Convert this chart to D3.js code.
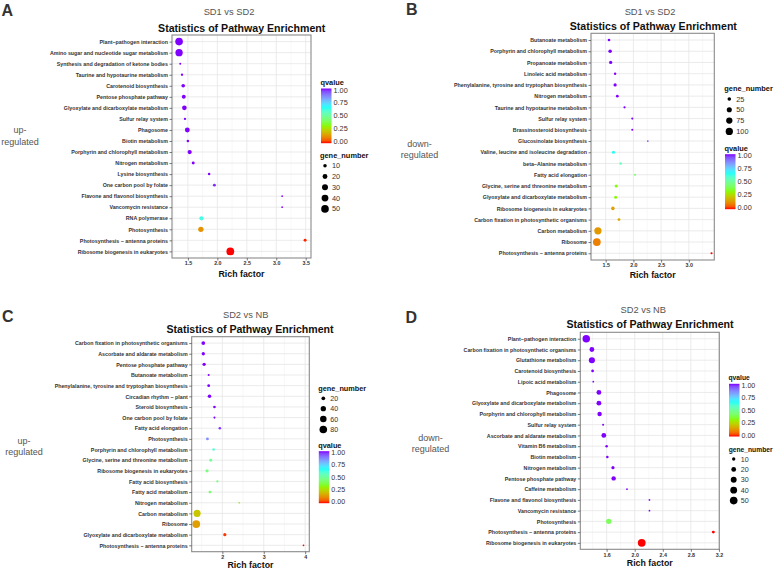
<!DOCTYPE html>
<html><head><meta charset="utf-8">
<script src="https://cdn.jsdelivr.net/npm/d3@7"></script>
<style>body{margin:0;background:#fff}svg{display:block}</style>
</head><body><svg id="chart" width="776" height="569"></svg>
<script>
// ---------- DATA ----------
const aCategories = ["Plant\u2212pathogen interaction","Amino sugar and nucleotide sugar metabolism","Synthesis and degradation of ketone bodies","Taurine and hypotaurine metabolism","Carotenoid biosynthesis","Pentose phosphate pathway","Glyoxylate and dicarboxylate metabolism","Sulfur relay system","Phagosome","Biotin metabolism","Porphyrin and chlorophyll metabolism","Nitrogen metabolism","Lysine biosynthesis","One carbon pool by folate","Flavone and flavonol biosynthesis","Vancomycin resistance","RNA polymerase","Photosynthesis","Photosynthesis \u2212 antenna proteins","Ribosome biogenesis in eukaryotes"];
const aRichFactor = [1.35,1.35,1.37,1.40,1.42,1.43,1.44,1.45,1.49,1.50,1.53,1.59,1.86,1.95,3.10,3.10,1.73,1.72,3.49,2.22];
const aGeneNumber = [50,46,3,4,11,13,18,4,20,5,15,7,5,7,2,2,15,24,7,52];
const aQvalue = [1,1,1,1,1,1,1,1,1,1,1,1,1,0.98,1,1,0.62,0.13,0.01,0.0];

const bCategories = ["Butanoate metabolism","Porphyrin and chlorophyll metabolism","Propanoate metabolism","Linoleic acid metabolism","Phenylalanine, tyrosine and tryptophan biosynthesis","Nitrogen metabolism","Taurine and hypotaurine metabolism","Sulfur relay system","Brassinosteroid biosynthesis","Glucosinolate biosynthesis","Valine, leucine and isoleucine degradation","beta\u2212Alanine metabolism","Fatty acid elongation","Glycine, serine and threonine metabolism","Glyoxylate and dicarboxylate metabolism","Ribosome biogenesis in eukaryotes","Carbon fixation in photosynthetic organisms","Carbon metabolism","Ribosome","Photosynthesis \u2212 antenna proteins"];
const bRichFactor = [1.56,1.58,1.59,1.67,1.67,1.71,1.84,1.98,1.98,2.26,1.64,1.77,2.03,1.69,1.68,1.63,1.74,1.36,1.34,3.41];
const bGeneNumber = [14,24,20,12,20,15,10,9,9,6,20,12,9,18,18,24,15,100,115,9];
const bQvalue = [1,1,1,1,1,1,1,1,1,0.95,0.65,0.55,0.42,0.33,0.32,0.15,0.17,0.14,0.10,0.0];

const cCategories = ["Carbon fixation in photosynthetic organisms","Ascorbate and aldarate metabolism","Pentose phosphate pathway","Butanoate metabolism","Phenylalanine, tyrosine and tryptophan biosynthesis","Circadian rhythm \u2212 plant","Steroid biosynthesis","One carbon pool by folate","Fatty acid elongation","Photosynthesis","Porphyrin and chlorophyll metabolism","Glycine, serine and threonine metabolism","Ribosome biogenesis in eukaryotes","Fatty acid biosynthesis","Fatty acid metabolism","Nitrogen metabolism","Carbon metabolism","Ribosome","Glyoxylate and dicarboxylate metabolism","Photosynthesis \u2212 antenna proteins"];
const cRichFactor = [1.54,1.54,1.56,1.67,1.67,1.69,1.81,1.81,1.94,1.64,1.79,1.72,1.63,1.88,1.70,2.41,1.39,1.37,2.06,3.96];
const cGeneNumber = [20,16,16,7,12,18,10,7,10,12,10,13,15,8,12,5,70,85,15,5];
const cQvalue = [1,1,1,1,1,1,1,1,0.97,0.85,0.6,0.5,0.45,0.45,0.43,0.3,0.22,0.15,0.02,0.0];

const dCategories = ["Plant\u2212pathogen interaction","Carbon fixation in photosynthetic organisms","Glutathione metabolism","Carotenoid biosynthesis","Lipoic acid metabolism","Phagosome","Glyoxylate and dicarboxylate metabolism","Porphyrin and chlorophyll metabolism","Sulfur relay system","Ascorbate and aldarate metabolism","Vitamin B6 metabolism","Biotin metabolism","Nitrogen metabolism","Pentose phosphate pathway","Caffeine metabolism","Flavone and flavonol biosynthesis","Vancomycin resistance","Photosynthesis","Photosynthesis \u2212 antenna proteins","Ribosome biogenesis in eukaryotes"];
const dRichFactor = [1.31,1.39,1.39,1.40,1.41,1.49,1.49,1.50,1.55,1.56,1.60,1.61,1.69,1.70,1.89,2.21,2.21,1.63,3.12,2.10];
const dGeneNumber = [48,20,32,7,3,20,20,17,4,20,6,6,9,17,3,3,3,25,8,52];
const dQvalue = [1,1,1,1,1,1,1,1,1,1,1,1,1,1,1,1,1,0.4,0.0,0.0];

const aXTicks = [1.5,2.0,2.5,3.0,3.5];
const bXTicks = [1.5,2.0,2.5,3.0];
const cXTicks = [2,3,4];
const dXTicks = [1.6,2.0,2.4,2.8,3.2];
const aSizeBreaks = [10,20,30,40,50];
const bSizeBreaks = [25,50,75,100];
const cSizeBreaks = [20,40,60,80];
const dSizeBreaks = [10,20,30,40,50];
const qBreaks = [1.00,0.75,0.50,0.25,0.00];
const qColors = ["#FF0000","#80FF00","#00FFFF","#8000FF"];

// ---------- DRAWING ----------
const svg = d3.select("#chart");
const FONT = "'Liberation Sans', Arial, Helvetica, sans-serif";
const color = d3.scaleLinear().domain([0,1/3,2/3,1]).range(qColors).interpolate(d3.interpolateLab);

const defs = svg.append("defs");
const grad = defs.append("linearGradient").attr("id","qgrad").attr("x1",0).attr("y1",1).attr("x2",0).attr("y2",0);
d3.range(0,1.0001,0.05).forEach(t => grad.append("stop").attr("offset",t).attr("stop-color",color(t)));

function sizeScale(vals){
  const lo = d3.min(vals), hi = d3.max(vals), rmin = 0.85, rmax = 3.9;
  return v => Math.sqrt(Math.max(0, rmin*rmin + (rmax*rmax - rmin*rmin)*(v-lo)/(hi-lo)));
}

const panels = [
  {letter:"A", lx:1.5, ly:15.5, sub:"SD1 vs SD2", subX:229, subY:15.3, titleX:241.7, titleY:31.5,
   side:["up-","regulated"], sideX:20, sideY:[133,144.5],
   cats:aCategories, rf:aRichFactor, gn:aGeneNumber, q:aQvalue, ticks:aXTicks, fmt:d3.format(".1f"),
   left:172, right:311, top:35, bottom:258, xDomain:[1.23,3.59], xlabY:276.5,
   sizeBreaks:aSizeBreaks, legFont:7.3, titleFont:7.4,
   qLeg:{x:320.5, y1:90, y0:141.7}, sLeg:{x:320, titleY:158.3, y:165.7, step:10.8}},
  {letter:"B", lx:406, ly:15, sub:"SD1 vs SD2", subX:650, subY:15, titleX:653.3, titleY:29.5,
   side:["down-","regulated"], sideX:419.5, sideY:[147,157.5],
   cats:bCategories, rf:bRichFactor, gn:bGeneNumber, q:bQvalue, ticks:bXTicks, fmt:d3.format(".1f"),
   left:591, right:714.3, top:33.3, bottom:260, xDomain:[1.235,3.46], xlabY:278,
   sizeBreaks:bSizeBreaks, legFont:7.3, titleFont:7.4,
   qLeg:{x:724.5, y1:155.7, y0:207.7}, sLeg:{x:724.3, titleY:90.8, y:99, step:10.8}},
  {letter:"C", lx:2, ly:322, sub:"SD2 vs NB", subX:245.7, subY:318.3, titleX:250, titleY:333,
   side:["up-","regulated"], sideX:24, sideY:[443.7,455],
   cats:cCategories, rf:cRichFactor, gn:cGeneNumber, q:cQvalue, ticks:cXTicks, fmt:d3.format("d"),
   left:191.7, right:309.3, top:336.7, bottom:551.7, xDomain:[1.26,4.1], xlabY:568,
   sizeBreaks:cSizeBreaks, legFont:7.1, titleFont:7.3,
   qLeg:{x:318.3, y1:452.7, y0:501.7}, sLeg:{x:318.3, titleY:391, y:398.3, step:10.4}},
  {letter:"D", lx:405.5, ly:322.5, sub:"SD2 vs NB", subX:643.3, subY:312.6, titleX:650, titleY:328.2,
   side:["down-","regulated"], sideX:430.5, sideY:[440.5,451.5],
   cats:dCategories, rf:dRichFactor, gn:dGeneNumber, q:dQvalue, ticks:dXTicks, fmt:d3.format(".1f"),
   left:580.3, right:719.3, top:332.3, bottom:549.3, xDomain:[1.225,3.205], xlabY:566.3,
   sizeBreaks:dSizeBreaks, legFont:7.1, titleFont:6.7,
   qLeg:{x:728.5, y1:385.3, y0:435}, sLeg:{x:728.7, titleY:451.5, y:459, step:10.4}}
];

panels.forEach(p => {
  const g = svg.append("g");
  const x = d3.scaleLinear().domain(p.xDomain).range([p.left, p.right]);
  const y = d3.scalePoint().domain(p.cats).range([p.top, p.bottom]).padding(0.6);
  const r = sizeScale(p.gn);

  // panel letter + titles
  g.append("text").attr("x",p.lx).attr("y",p.ly).text(p.letter)
    .attr("font-family",FONT).attr("font-weight","bold").attr("font-size",16).attr("fill","#333");
  g.append("text").attr("x",p.subX).attr("y",p.subY).attr("text-anchor","middle").text(p.sub)
    .attr("font-family",FONT).attr("font-size",9.3).attr("fill","#555");
  g.append("text").attr("x",p.titleX).attr("y",p.titleY).attr("text-anchor","middle").text("Statistics of Pathway Enrichment")
    .attr("font-family",FONT).attr("font-weight","bold").attr("font-size",10.6).attr("fill","#111");
  p.side.forEach((s,i) => g.append("text").attr("x",p.sideX).attr("y",p.sideY[i]).attr("text-anchor","middle").text(s)
    .attr("font-family",FONT).attr("font-size",9).attr("fill","#555"));

  // background + grid
  g.append("rect").attr("x",p.left).attr("y",p.top).attr("width",p.right-p.left).attr("height",p.bottom-p.top).attr("fill","#fff");
  const step = p.ticks[1]-p.ticks[0];
  const minors = [];
  for (let v = p.ticks[0]-step/2; v <= p.xDomain[1]; v += step) if (v >= p.xDomain[0]) minors.push(v);
  g.selectAll(null).data(minors).join("line")
    .attr("x1",d=>x(d)).attr("x2",d=>x(d)).attr("y1",p.top).attr("y2",p.bottom)
    .attr("stroke","#f3f3f3").attr("stroke-width",0.6);
  g.selectAll(null).data(p.ticks).join("line")
    .attr("x1",d=>x(d)).attr("x2",d=>x(d)).attr("y1",p.top).attr("y2",p.bottom)
    .attr("stroke","#e6e6e6").attr("stroke-width",0.8);
  g.selectAll(null).data(p.cats).join("line")
    .attr("x1",p.left).attr("x2",p.right).attr("y1",d=>y(d)).attr("y2",d=>y(d))
    .attr("stroke","#e6e6e6").attr("stroke-width",0.8);

  // points
  g.selectAll(null).data(p.cats.map((c,i)=>({c, rf:p.rf[i], gn:p.gn[i], q:p.q[i]}))).join("circle")
    .attr("cx",d=>x(d.rf)).attr("cy",d=>y(d.c)).attr("r",d=>r(d.gn)).attr("fill",d=>color(d.q));

  // border
  g.append("rect").attr("x",p.left).attr("y",p.top).attr("width",p.right-p.left).attr("height",p.bottom-p.top)
    .attr("fill","none").attr("stroke","#8a8a8a").attr("stroke-width",1.1);

  // axes
  const ya = g.append("g").attr("transform",`translate(${p.left},0)`)
    .call(d3.axisLeft(y).tickSize(2.5).tickPadding(1.5));
  const xa = g.append("g").attr("transform",`translate(0,${p.bottom})`)
    .call(d3.axisBottom(x).tickValues(p.ticks).tickFormat(p.fmt).tickSize(2.5).tickPadding(1));
  [ya,xa].forEach(a => {
    a.select(".domain").remove();
    a.selectAll(".tick line").attr("stroke","#444").attr("stroke-width",0.7);
    a.selectAll("text").attr("font-family",FONT).attr("font-weight","bold").attr("font-size",5.3).attr("fill","#333");
  });
  g.append("text").attr("x",(p.left+p.right)/2).attr("y",p.xlabY).attr("text-anchor","middle").text("Rich factor")
    .attr("font-family",FONT).attr("font-weight","bold").attr("font-size",8.8).attr("fill","#111");

  // colour legend
  const ql = p.qLeg;
  const qs = d3.scaleLinear().domain([0,1]).range([ql.y0, ql.y1]);
  g.append("text").attr("x",ql.x).attr("y",ql.y1-5).text("qvalue")
    .attr("font-family",FONT).attr("font-weight","bold").attr("font-size",p.titleFont).attr("fill","#111");
  g.append("rect").attr("x",ql.x+0.5).attr("y",ql.y1-1.5).attr("width",10.5).attr("height",ql.y0-ql.y1+3).attr("fill","url(#qgrad)");
  qBreaks.forEach(b => g.append("text").attr("x",ql.x+13).attr("y",qs(b)+2.5).text(b.toFixed(2))
    .attr("font-family",FONT).attr("font-size",p.legFont).attr("fill","#333"));

  // size legend
  const sl = p.sLeg;
  g.append("text").attr("x",sl.x).attr("y",sl.titleY).text("gene_number")
    .attr("font-family",FONT).attr("font-weight","bold").attr("font-size",p.titleFont).attr("fill","#111");
  p.sizeBreaks.forEach((b,i) => {
    const cy = sl.y + i*sl.step;
    g.append("circle").attr("cx",sl.x+5).attr("cy",cy).attr("r",r(b)).attr("fill","#000");
    g.append("text").attr("x",sl.x+12).attr("y",cy+2.5).text(b)
      .attr("font-family",FONT).attr("font-size",p.legFont).attr("fill","#333");
  });
});
</script>
</body></html>
